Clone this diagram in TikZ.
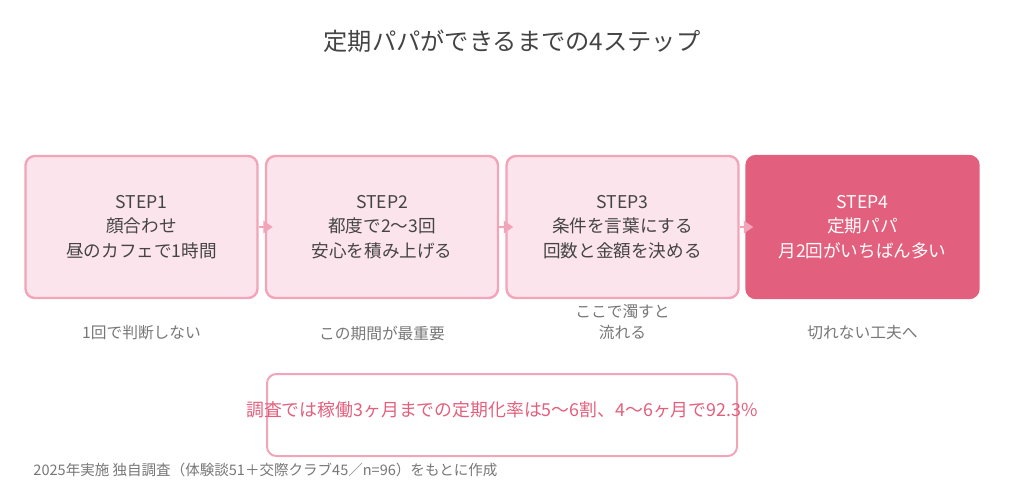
\documentclass[tikz,border=0pt]{standalone}
\usepackage{fontspec}
\setmainfont{Noto Sans CJK JP}
\usetikzlibrary{arrows.meta}
\definecolor{boxfill}{HTML}{FCE4EC}
\definecolor{boxline}{HTML}{F2A5B9}
\definecolor{keyred}{HTML}{E2607D}
\definecolor{bodytext}{HTML}{444444}
\definecolor{subtext}{HTML}{777777}
\tikzset{every picture/.style={line width=0.75pt},
  stepbox/.style={draw=boxline,line width=1.8pt,fill=boxfill,rounded corners=7pt,minimum width=174pt,minimum height=106.5pt,align=center,text=bodytext,font=\fontsize{13.2}{18.5}\selectfont},
  keybox/.style={stepbox,fill=keyred,draw=keyred,text=white},
  steplabel/.style={text=subtext,align=center,font=\fontsize{11.8}{15.5}\selectfont},
  steparrow/.style={-{Triangle[length=7pt,width=9pt]},draw=boxline,line width=1.5pt,shorten <=0pt,shorten >=-6pt}}

\begin{document}
\begin{tikzpicture}[x=0.75pt,y=0.75pt,yscale=-1,xscale=1]
	\useasboundingbox (0,0) rectangle (1024,493);

	% Title
	\node (title) at (512,41) {\textcolor{bodytext}{\fontsize{18.2}{22}\selectfont 定期パパができるまでの4ステップ}};

	% Steps
	\node [stepbox] (s1) at (141.5,227) {STEP1\\顔合わせ\\昼のカフェで1時間};
	\node [stepbox] (s2) at (382,227) {STEP2\\都度で2〜3回\\安心を積み上げる};
	\node [stepbox] (s3) at (622.5,227) {STEP3\\条件を言葉にする\\回数と金額を決める};
	\node [keybox] (s4) at (862.5,227) {STEP4\\定期パパ\\月2回がいちばん多い};

	\draw [steparrow] (s1) -- (s2);
	\draw [steparrow] (s2) -- (s3);
	\draw [steparrow] (s3) -- (s4);

	% Notes under the steps
	\node [steplabel] (n1) at (141.5,333) {1回で判断しない};
	\node [steplabel] (n2) at (382,333) {この期間が最重要};
	\node [steplabel] (n3) at (622.5,322) {ここで濁すと\\流れる};
	\node [steplabel] (n4) at (862.5,333) {切れない工夫へ};

	% Key figure
	\draw [draw=boxline,line width=1.5pt,rounded corners=7pt] (267,374) rectangle (737,456);
	\node (key) at (502,410) {\textcolor{keyred}{\fontsize{13.4}{16}\selectfont 調査では稼働3ヶ月までの定期化率は5〜6割、4〜6ヶ月で92.3\%}};

	% Source
	\node [anchor=west,text=subtext,font=\fontsize{10.9}{12}\selectfont,inner sep=0pt] (src) at (33,470) {2025年実施 独自調査（体験談51＋交際クラブ45／n=96）をもとに作成};

	\end{tikzpicture}
\end{document}
